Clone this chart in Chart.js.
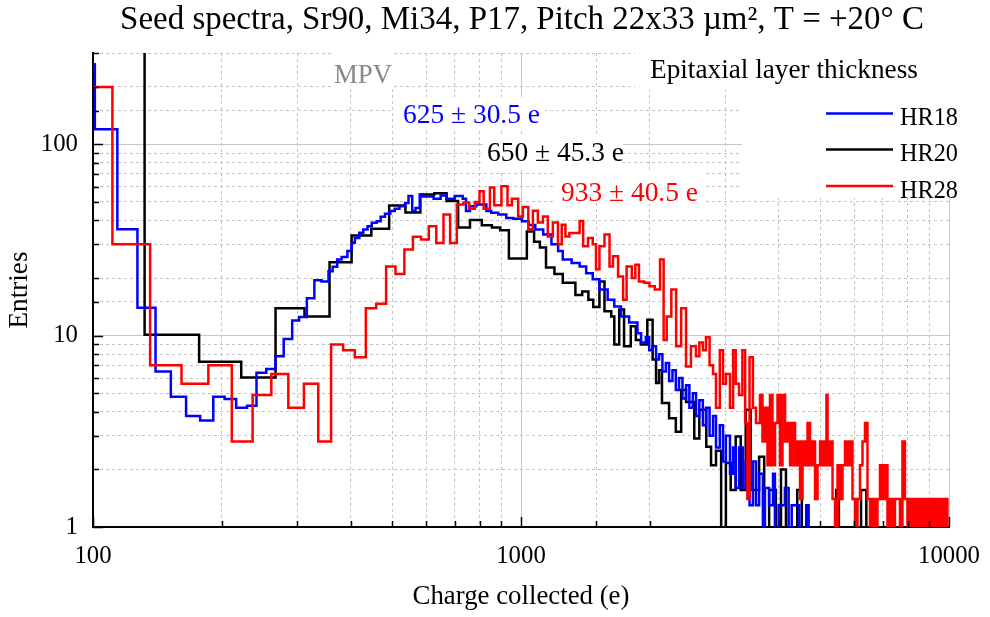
<!DOCTYPE html>
<html>
<head>
<meta charset="utf-8">
<script src="https://cdn.jsdelivr.net/npm/chart.js@4.4.1/dist/chart.umd.min.js"></script>
<style>
  html, body { margin: 0; padding: 0; background: #fff; }
</style>
</head>
<body>
<canvas id="spectre" width="990" height="617"></canvas>
<script>
// bin left edges (e) and entries
const hr18Edges = [88,101,114,127,140,152,165,178,191,203,216,229,241,254,267,279,292,303,316,329,342,355,363,372,381,393,402,409,419,428,438,448,460,470,481,495,507,520,536,546,557,567,580,589,625,649,670,700,731,744,760,786,830,852,885,924,959,1005,1042,1080,1127,1178,1221,1252,1313,1371,1420,1471,1525,1594,1652,1713,1789,1871,1908,1957,1993,2028,2068,2102,2140,2180,2218,2259,2300,2340,2384,2430,2474,2520,2565,2610,2660,2705,2758,2810,2855,2914,2965,3011,3078,3130,3174,3232,3300,3350,3420,3482,3540,3600,3674,3715,3800,3880,3920,4000,4136,4220,4290,4470,4638,4700];
const hr18Counts = [262,120,36,14,6.5,4.8,3.8,3.6,4.8,4.66,4.2,4.3,6.4,6.7,7.8,9.6,12.0,12.5,15.7,19.5,19.2,21.7,22.9,25,25.8,27.7,30.6,32.4,34.5,35.9,37.3,38.9,39.6,41.8,43.4,44.8,46.1,47.5,49.4,53.6,44.8,46.5,54.7,53.4,52,54,52,53.6,52,44.8,47.5,48.5,44.8,43.9,43,41.2,40.8,39.6,37.9,35.9,33.8,30,27.7,25,24,23,21.2,19.7,17.4,15.4,14.2,12.6,11.7,10.3,9.2,9.8,8.4,8.8,7.5,8.0,6.5,7.2,5.8,6.6,5.2,6.0,4.7,5.5,4.2,5.0,3.8,4.6,3.4,4.2,3.0,3.8,2.6,3.4,2.2,3.0,1.9,2.6,1.6,2.6,1.6,2.2,1.3,2.2,1.3,1.9,0,1.6,1.3,1.9,0,1.3,1.6,0,1.3,0,1.3,0];

const hr20Edges = [87,132,177,222,267,312,357,402,447,492,537,582,627,670,713,760,810,855,894,937,1032,1073,1107,1144,1197,1252,1340,1390,1437,1475,1525,1567,1625,1652,1696,1741,1805,1855,1905,1973,2030,2068,2102,2135,2218,2300,2367,2430,2540,2610,2710,2780,2855,2935,3011,3090,3174,3261,3350,3442,3600,3700,3800,3940,4050,4160,4420,4530,5450,5530,6230,6410];
const hr20Counts = [1000,10.1,7.3,6.05,13.9,12.6,24.2,33.4,36.2,47.9,44,54.7,55.5,50.5,36.7,40.2,37.8,36.7,35.5,25.3,35,31,28.9,22.7,21,18.9,16.3,17.0,15.4,14.1,19.2,13.4,12.6,9.0,13.7,8.8,11.2,9.5,9.0,12.1,7.5,5.65,6.6,4.44,3.7,3.15,5.2,4.5,2.9,4.1,2.63,2.1,2.5,0,2.16,1.56,2.97,1.56,4.1,1.56,2.33,0,1.56,0,2.0,0,1.56,0,1.56,0,1.56,0];

const hr28Edges = [86,111,136,161,186,211,236,261,286,311,336,360,384,409,434,459,484,509,534,559,584,609,634,659,683,708,734,757,780,800,818,846,866,900,930,952,985,1010,1040,1066,1095,1125,1155,1187,1220,1245,1270,1297,1371,1397,1434,1471,1497,1525,1567,1610,1640,1686,1732,1765,1815,1850,1886,1940,1996,2054,2113,2154,2190,2245,2304,2367,2430,2495,2563,2610,2660,2705,2758,2810,2855,2914,2965,3011,3078,3130,3174,3232,3290,3340,3380,3420,3482,3540,3617,3666,3716,3766,3817,3869,3922,3975,4029,4083,4139,4195,4252,4309,4368,4427,4487,4548,4609,4672,4735,4799,4864,4930,4997,5064,5133,5172,5203,5272,5344,5416,5490,5564,5639,5715,5793,5871,5950,6031,6112,6195,6279,6364,6450,6537,6626,6715,6806,6898,6991,7086,7182,7279,7378,7477,7578,7681,7785,7890,7997,8105,8215,8326,8438,8552,8668,8785,8904,9025,9146,9270,9396,9523,9651,9782,9914];
const hr28Counts = [199,30,7.0,5.6,7.0,2.8,4.9,6.3,4.2,5.6,2.8,9.0,8.4,7.7,13.9,14.7,23.0,21.0,28.2,32.9,31.8,37.3,30.5,43,30.5,48.5,49.7,46,50,56.8,46,59.5,48,60.4,48,52,42,47,36,45,39,42,33,39,30,38,33,34.4,39.7,29.3,32.4,30,22.2,29.3,33.8,23,26,20.4,15.4,23,20,23.5,19.2,18.9,18.1,17.4,25,9.5,12.6,17.4,8.8,13.9,6.9,8.8,7.8,9.2,8.4,9.8,7.0,6.3,4.2,8.4,5.6,6.3,4.2,8.4,5.6,4.9,8.4,3.5,1.4,7.7,4.2,3.5,4.9,2.8,4.2,2.1,4.9,2.1,3.5,4.9,2.1,4.9,2.8,3.5,2.1,3.5,2.1,2.8,1.4,2.8,2.1,3.5,2.1,2.8,1.4,2.1,2.8,2.1,2.8,4.9,2.1,2.8,1.4,0,2.1,1.4,2.1,2.8,2.1,2.8,1.4,0,1.4,2.1,2.8,3.5,1.4,0,1.4,0,1.4,2.1,1.4,2.1,0,1.4,0,1.4,1.4,0,2.8,1.4,0,1.4,0,1.4,0,1.4,0,1.4,0,1.4,0,1.4,0,1.4,0,1.4,0];

const seriesNames = ["HR18", "HR20", "HR28"];
const seriesColors = ["#0000ff", "#000000", "#ff0000"];
const mpvLabels = ["625 \u00b1 30.5 e", "650 \u00b1 45.3 e", "933 \u00b1 40.5 e"];
const xRange = [100, 10000];
const yRange = [1, 300];

const SERIF = '"Liberation Serif", "Times New Roman", serif';
const meas = document.createElement('canvas').getContext('2d');
function fitSize(text, width) {
    meas.font = '100px ' + SERIF;
    return 100 * width / meas.measureText(text).width;
}
function isMajor(v) {
    const l = Math.log10(v);
    return Math.abs(l - Math.round(l)) < 1e-6;
}
// zero bins dropped below the axis so the step falls to the bottom
function steps(edges, counts) {
    return edges.map((x, i) => ({ x: x, y: counts[i] > 0 ? counts[i] : 0.3 }));
}

const TITLE = "Seed spectra, Sr90, Mi34, P17, Pitch 22x33 \u00b5m\u00b2, T = +20\u00b0 C";
const tickSize = fitSize("10000", 62);
const axisTitleSize = fitSize("Charge collected (e)", 217);

// white boxes + texts drawn over the grid, under the histograms
const annotations = {
    id: 'annotations',
    beforeDatasetsDraw(chart) {
        const ctx = chart.ctx;
        ctx.save();
        ctx.fillStyle = '#fff';
        [[331, 53, 62, 36], [393, 97, 152, 34], [483, 134, 140, 36], [553, 172, 150, 31], [635, 53, 316, 37], [742, 90, 209, 108]]
            .forEach(b => ctx.fillRect(b[0], b[1], b[2], b[3]));
        ctx.textBaseline = 'alphabetic';
        ctx.textAlign = 'left';

        ctx.fillStyle = '#888';
        ctx.font = fitSize("MPV", 58) + 'px ' + SERIF;
        ctx.fillText("MPV", 334, 83);

        const lx = [403, 487, 561];
        const ly = [123, 161, 201];
        mpvLabels.forEach((t, i) => {
            ctx.fillStyle = seriesColors[i];
            ctx.font = fitSize(mpvLabels[0], 137) + 'px ' + SERIF;
            ctx.fillText(t, lx[i], ly[i]);
        });

        ctx.fillStyle = '#000';
        ctx.font = fitSize("Epitaxial layer thickness", 268) + 'px ' + SERIF;
        ctx.fillText("Epitaxial layer thickness", 650, 78);

        const legY = [113.5, 149.5, 186];
        ctx.font = fitSize("HR18", 58) + 'px ' + SERIF;
        seriesNames.forEach((n, i) => {
            ctx.strokeStyle = seriesColors[i];
            ctx.lineWidth = 2.5;
            ctx.beginPath();
            ctx.moveTo(826, legY[i]);
            ctx.lineTo(893, legY[i]);
            ctx.stroke();
            ctx.fillStyle = '#000';
            ctx.fillText(n, 900, legY[i] + 11.5);
        });

        ctx.textAlign = 'center';
        ctx.font = fitSize(TITLE, 804) + 'px ' + SERIF;
        ctx.fillText(TITLE, 522, 29);
        ctx.restore();
    },
    afterDatasetsDraw(chart) {
        // tick marks pointing into the plot
        const { ctx, chartArea: a, scales: { x, y } } = chart;
        ctx.save();
        ctx.strokeStyle = '#000';
        ctx.lineWidth = 1.5;
        ctx.beginPath();
        x.ticks.forEach(t => {
            const p = Math.round(x.getPixelForValue(t.value)) + 0.5;
            const len = isMajor(t.value) ? 10 : 6;
            ctx.moveTo(p, a.bottom);
            ctx.lineTo(p, a.bottom - len);
        });
        y.ticks.forEach(t => {
            const p = Math.round(y.getPixelForValue(t.value)) + 0.5;
            const len = isMajor(t.value) ? 10 : 6;
            ctx.moveTo(a.left, p);
            ctx.lineTo(a.left + len, p);
        });
        ctx.stroke();
        ctx.restore();
    }
};

const gridOpts = {
    color: c => (c.tick && isMajor(c.tick.value)) ? '#c8c8c8' : '#c4c4c4',
    lineWidth: 1,
    drawTicks: true,
    tickLength: 10,
    tickColor: 'rgba(0,0,0,0)'
};
const borderOpts = {
    color: '#000',
    width: 2,
    dash: c => (c.tick && !isMajor(c.tick.value)) ? [3, 3] : []
};

new Chart(document.getElementById('spectre'), {
    type: 'line',
    data: {
        datasets: [
            { label: seriesNames[2], data: steps(hr28Edges, hr28Counts), borderColor: seriesColors[2], order: 0 },
            { label: seriesNames[0], data: steps(hr18Edges, hr18Counts), borderColor: seriesColors[0], order: 1 },
            { label: seriesNames[1], data: steps(hr20Edges, hr20Counts), borderColor: seriesColors[1], order: 2 }
        ]
    },
    options: {
        responsive: false,
        animation: false,
        layout: { padding: { top: 53, right: 41, left: 0, bottom: 0 } },
        elements: {
            line: { borderWidth: 2.5, stepped: 'before', tension: 0, fill: false },
            point: { radius: 0 }
        },
        plugins: { legend: { display: false }, tooltip: { enabled: false }, title: { display: false } },
        scales: {
            x: {
                type: 'logarithmic',
                min: xRange[0],
                max: xRange[1],
                afterFit: s => { s.height = 90; },
                grid: gridOpts,
                border: borderOpts,
                ticks: {
                    autoSkip: false,
                    maxRotation: 0,
                    padding: 5,
                    color: '#000',
                    font: { family: SERIF, size: tickSize },
                    callback: v => isMajor(v) ? String(Math.round(v)) : ''
                },
                title: {
                    display: true,
                    text: 'Charge collected (e)',
                    color: '#000',
                    font: { family: SERIF, size: axisTitleSize },
                    padding: { top: 0, bottom: 4 }
                }
            },
            y: {
                type: 'logarithmic',
                min: yRange[0],
                max: yRange[1],
                afterFit: s => { s.width = 93; },
                grid: gridOpts,
                border: borderOpts,
                ticks: {
                    autoSkip: false,
                    padding: 5,
                    color: '#000',
                    font: { family: SERIF, size: tickSize },
                    callback: v => isMajor(v) ? String(Math.round(v)) : ''
                },
                title: {
                    display: true,
                    text: 'Entries',
                    color: '#000',
                    font: { family: SERIF, size: fitSize('Entries', 77) },
                    padding: { top: 4, bottom: 0 }
                }
            }
        }
    },
    plugins: [annotations]
});
</script>
</body>
</html>
